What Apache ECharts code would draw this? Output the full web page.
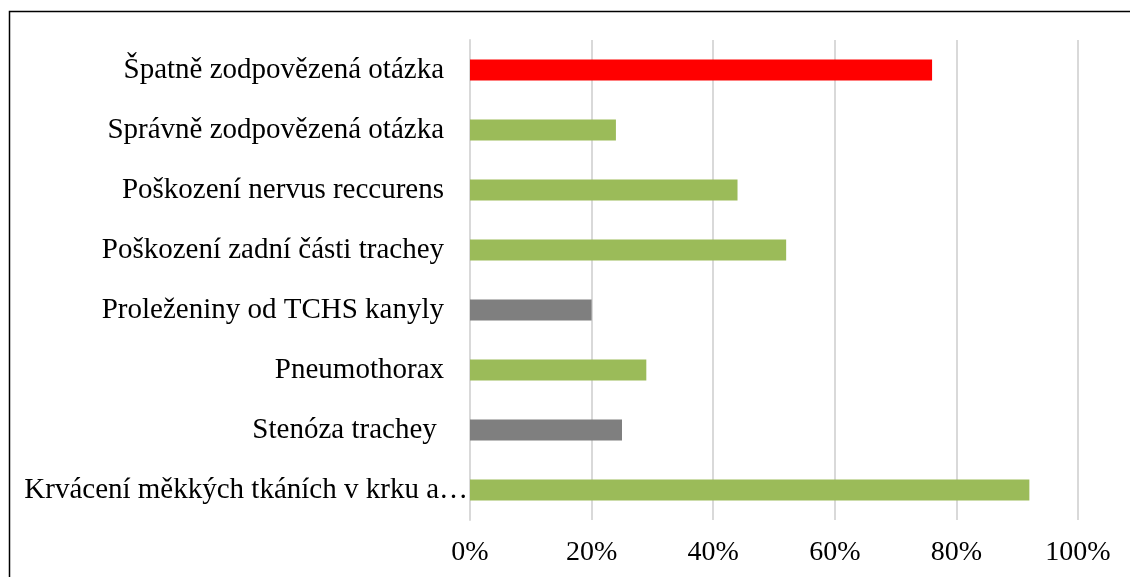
<!DOCTYPE html>
<html>
<head>
<meta charset="utf-8">
<script src="https://cdn.jsdelivr.net/npm/echarts@6/dist/echarts.min.js"></script>
<style>
  html,body{margin:0;padding:0;background:#fff;}
  #chart{width:1130px;height:577px;}
</style>
</head>
<body>
<div id="chart"></div>
<script>
// kategorie odshora dolu
var categories = [
  'Špatně zodpovězená otázka',
  'Správně zodpovězená otázka',
  'Poškození nervus reccurens',
  'Poškození zadní části trachey',
  'Proleženiny od TCHS kanyly',
  'Pneumothorax',
  'Stenóza trachey ',
  'Krvácení měkkých tkáních v krku a…'
];
var values = [76, 24, 44, 52, 20, 29, 25, 92];
var xTicks = [0, 20, 40, 60, 80, 100];

// barvy sloupcu (styl)
var barColors = ['#ff0000', '#9bbb59', '#9bbb59', '#9bbb59', '#7f7f7f', '#9bbb59', '#7f7f7f', '#9bbb59'];

var font = '"Liberation Serif", "Times New Roman", serif';
var chart = echarts.init(document.getElementById('chart'));

var seriesData = values.map(function (v, i) {
  return { value: v, itemStyle: { color: barColors[i] } };
});

var yData = categories.map(function (c, i) {
  // posledni popisek je useknuty a zarovnany az k ose
  if (i == categories.length - 1) {
    return { value: c, textStyle: { padding: [0, -24, 0, 0] } };
  }
  return c;
});

chart.setOption({
  animation: false,
  grid: { left: 470, right: 52, top: 40, bottom: 57 },
  xAxis: {
    type: 'value',
    min: xTicks[0],
    max: xTicks[xTicks.length - 1],
    interval: 20,
    axisLine: { show: false },
    axisTick: { show: false },
    axisLabel: {
      formatter: '{value}%',
      fontFamily: font,
      fontSize: 28,
      color: '#000',
      margin: 19
    },
    splitLine: { lineStyle: { color: '#d9d9d9', width: 2 } }
  },
  yAxis: {
    type: 'category',
    inverse: true,
    data: yData,
    axisLine: { lineStyle: { color: '#d9d9d9', width: 2 } },
    axisTick: { show: false },
    axisLabel: {
      fontFamily: font,
      fontSize: 29,
      color: '#000',
      margin: 26
    }
  },
  series: [{
    type: 'bar',
    barWidth: 21,
    data: seriesData
  }],
  graphic: [{
    type: 'rect',
    silent: true,
    shape: { x: 9.5, y: 11.5, width: 2000, height: 2000 },
    style: { fill: null, stroke: '#000', lineWidth: 1.5 }
  }]
});
</script>
</body>
</html>
